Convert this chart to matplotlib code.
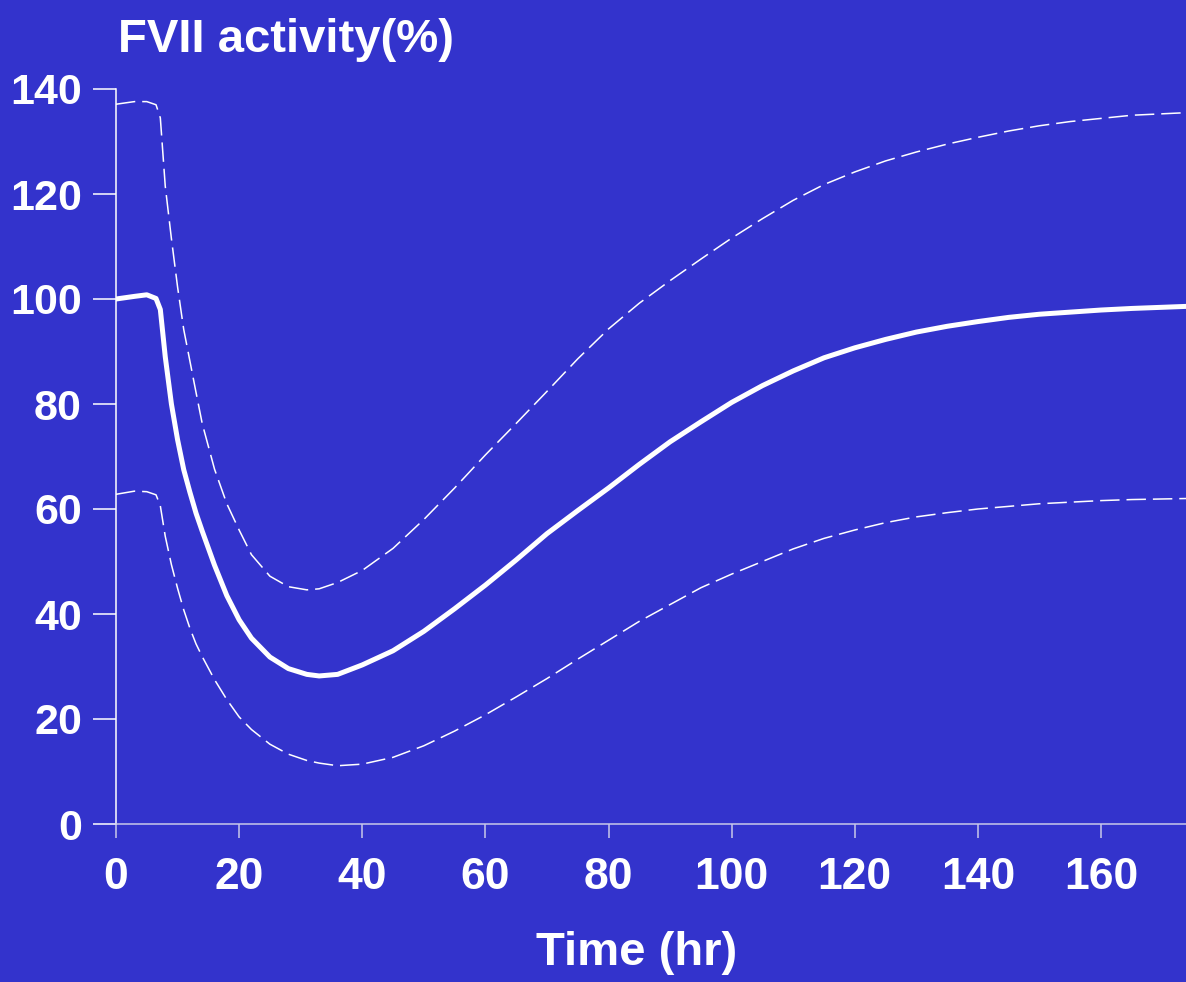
import numpy as np
import matplotlib
matplotlib.use("Agg")
import matplotlib.pyplot as plt
from matplotlib import font_manager

# FVII activity after dosing: mean and upper/lower bounds (%)
time_hr = [0, 3, 5, 6.5, 7.2, 8, 9, 10, 11, 12, 13, 14, 16, 18, 20, 22, 25, 28,
           31, 33, 36, 40, 45, 50, 55, 60, 65, 70, 75, 80, 85, 90, 95, 100,
           105, 110, 115, 120, 125, 130, 135, 140, 145, 150, 155, 160, 165, 174]
mean_act = [100, 100.5, 100.8, 100.1, 98, 89, 80, 73.2, 67.5, 63.2, 59.2, 55.8,
            49.3, 43.5, 38.9, 35.4, 31.8, 29.6, 28.5, 28.2, 28.5, 30.3, 33,
            36.7, 41, 45.5, 50.3, 55.3, 59.7, 64, 68.5, 72.8, 76.6, 80.3, 83.5,
            86.3, 88.8, 90.7, 92.3, 93.7, 94.8, 95.7, 96.5, 97.1, 97.5, 97.9,
            98.2, 98.6]
upper_act = [137.1, 137.6, 137.6, 137, 134.5, 121.5, 111.5, 102.3, 94.2, 88.2,
             82.2, 76.3, 67.6, 61, 56, 51.3, 47.2, 45.2, 44.6, 44.8, 46, 48.3,
             52.5, 58, 64, 70.3, 76.3, 82.4, 88.6, 94.3, 99.2, 103.5, 107.6,
             111.6, 115.3, 118.8, 121.8, 124.2, 126.3, 128, 129.5, 130.8, 132,
             133, 133.8, 134.4, 135, 135.5]
lower_act = [62.8, 63.4, 63.3, 62.7, 60.6, 54.8, 49.4, 44.9, 40.8, 37.3, 34.3,
             31.9, 27.5, 23.7, 20.4, 18, 15.2, 13.3, 12.1, 11.6, 11.1, 11.4,
             12.7, 14.9, 17.7, 20.8, 24.2, 27.7, 31.4, 35, 38.6, 41.8, 45, 47.6,
             50, 52.4, 54.4, 56, 57.4, 58.5, 59.3, 60, 60.5, 61, 61.3, 61.6,
             61.8, 62]

x_ticks = [0, 20, 40, 60, 80, 100, 120, 140, 160]
y_ticks = [0, 20, 40, 60, 80, 100, 120, 140]

bg = "#3333cc"
fg = "white"
axis_grey = "#c8c8ea"

plt.rcParams["font.family"] = ["Liberation Sans", "DejaVu Sans"]
plt.rcParams["font.weight"] = "bold"
plt.rcParams["lines.scale_dashes"] = False

# tighter face for the titles if the narrow cut is available
names = {f.name for f in font_manager.fontManager.ttflist}
if "Liberation Sans Narrow" in names:
    head_family = ["Liberation Sans Narrow", "DejaVu Sans"]
    head_sizes = (39, 40)
else:
    head_family = ["Liberation Sans", "DejaVu Sans"]
    head_sizes = (34, 34)

fig = plt.figure(figsize=(11.86, 9.82), dpi=100, facecolor=bg)
ax = fig.add_axes([116 / 1186, 158 / 982, 1 - 116 / 1186, (824 - 89) / 982])
ax.set_facecolor(bg)

ax.plot(time_hr, upper_act, color=fg, lw=1.1, dashes=(14, 5))
ax.plot(time_hr, lower_act, color=fg, lw=1.1, dashes=(14, 5))
ax.plot(time_hr, mean_act, color=fg, lw=3.6, solid_joinstyle="round")

ax.set_xlim(0, 173.8)
ax.set_ylim(0, 140)
ax.set_xticks(x_ticks)
ax.set_yticks(y_ticks)

for s in ["top", "right"]:
    ax.spines[s].set_visible(False)
ax.spines["left"].set_color(fg)
ax.spines["left"].set_linewidth(1.1)
ax.spines["bottom"].set_color(axis_grey)
ax.spines["bottom"].set_linewidth(1.1)

ax.tick_params(axis="y", direction="out", length=16.5, width=1.1, color=fg,
               labelcolor=fg, labelsize=31, pad=8)
ax.tick_params(axis="x", direction="out", length=10, width=1.1,
               color=axis_grey, labelcolor=fg, labelsize=32, pad=14)
for lab in ax.get_xticklabels() + ax.get_yticklabels():
    lab.set_fontweight("bold")

fig.text(118 / 1186, (982 - 52) / 982, "FVII activity(%)", color=fg,
         family=head_family, fontsize=head_sizes[0], fontweight="bold",
         ha="left", va="baseline")
fig.text(637 / 1186, (982 - 965) / 982, "Time (hr)", color=fg,
         family=head_family, fontsize=head_sizes[1], fontweight="bold",
         ha="center", va="baseline")

fig.savefig("out.png", dpi=100, facecolor=bg)
